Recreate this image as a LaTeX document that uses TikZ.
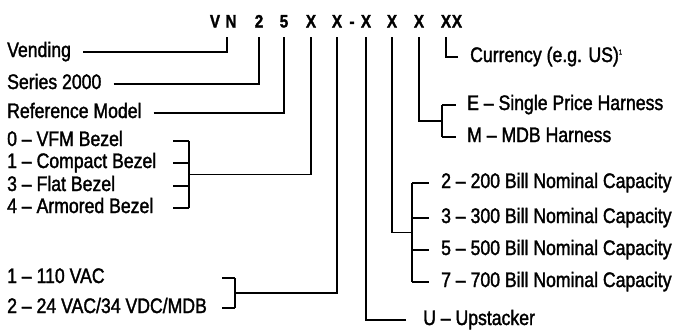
\documentclass[tikz,border=0pt]{standalone}
\usepackage{fontspec}
\setmainfont[FakeStretch=0.84,FakeBold=1.6]{Liberation Sans}
\tikzset{>=stealth}
\tikzset{
  lbl/.style={anchor=west, inner sep=0pt, text height=14pt, text depth=4pt, font=\fontsize{21}{21}\selectfont},
  code/.style={inner sep=0pt, text height=13pt, text depth=0pt, font=\bfseries\fontsize{18}{18}\selectfont},
  wire/.style={line width=1.5pt}
}

\begin{document}
\begin{tikzpicture}[x=1pt,y=-1pt]
\useasboundingbox (0,0) rectangle (682,332);
% the code letters
\foreach \n/\c/\x in {v/V/215, n/N/231, a/2/259, b/5/284, c/X/311, d/X/337, h/-/352, e/X/366, f/X/392, g/X/419, k/X/446, l/X/457}
\node[code] (\n) at (\x,21) {\c};

% left labels
\node[lbl] (vend) at (7,52) {Vending};
\node[lbl] (ser) at (7,84) {Series 2000};
\node[lbl] (refm) at (7,113) {Reference Model};
\node[lbl] (bz0) at (7,141) {0 -- VFM Bezel};
\node[lbl] (bz1) at (7,163) {1 -- Compact Bezel};
\node[lbl] (bz2) at (7,186) {3 -- Flat Bezel};
\node[lbl] (bz3) at (7,208) {4 -- Armored Bezel};
\node[lbl] (vo1) at (7,278) {1 -- 110 VAC};
\node[lbl] (vo2) at (7,308) {2 -- 24 VAC/34 VDC/MDB};

% right labels
\node[lbl] (cur) at (470,57) {Currency (e.g. US)\textsuperscript{\fontsize{7}{7}\selectfont 1}};
\node[lbl] (he) at (467,105) {E -- Single Price Harness};
\node[lbl] (hm) at (467,137) {M -- MDB Harness};
\node[lbl] (bl2) at (441,183) {2 -- 200 Bill Nominal Capacity};
\node[lbl] (bl3) at (441,218) {3 -- 300 Bill Nominal Capacity};
\node[lbl] (bl5) at (441,250) {5 -- 500 Bill Nominal Capacity};
\node[lbl] (bl7) at (441,282) {7 -- 700 Bill Nominal Capacity};
\node[lbl] (up) at (423,320) {U -- Upstacker};

% single lines
\draw[wire] ([xshift=12pt]vend.east) -| ([shift={(-4pt,-9pt)}]n.south);
\draw[wire] ([xshift=12pt]ser.east) -| ([yshift=-9pt]a.south);
\draw[wire] ([xshift=12pt]refm.east) -| ([yshift=-9pt]b.south);
\draw[wire] ([xshift=-17pt]up.west) -| ([yshift=-9pt]e.south);
\draw[wire] ([xshift=-12pt]cur.west) -| ([yshift=-9pt]k.south);

% bezel bracket
\coordinate (bzl) at (189,174.5);
\foreach \i in {0,...,3}
\draw[wire] ([xshift=-16pt]bzl |- bz\i.east) -- (bzl |- bz\i.east);
\draw[wire] (bzl |- bz0.east) -- (bzl |- bz3.east);
\draw[wire] (bzl) -| ([yshift=-9pt]c.south);

% voltage bracket
\coordinate (vol) at (235,293);
\foreach \i in {1,2}
\draw[wire] ([xshift=-13pt]vol |- vo\i.east) -- (vol |- vo\i.east);
\draw[wire] (vol |- vo1.east) -- (vol |- vo2.east);
\draw[wire] (vol) -| ([yshift=-9pt]d.south);

% bill bracket
\coordinate (bil) at (412,232.5);
\foreach \i in {2,3,5,7}
\draw[wire] (bil |- bl\i.west) -- ([xshift=-12pt]bl\i.west);
\draw[wire] (bil |- bl2.west) -- (bil |- bl7.west);
\draw[wire] (bil) -| ([yshift=-9pt]f.south);

% harness bracket
\coordinate (har) at (442,121);
\foreach \i in {he,hm}
\draw[wire] (har |- \i.west) -- ([xshift=-11pt]\i.west);
\draw[wire] (har |- he.west) -- (har |- hm.west);
\draw[wire] (har) -| ([yshift=-9pt]g.south);
\end{tikzpicture}
\end{document}
